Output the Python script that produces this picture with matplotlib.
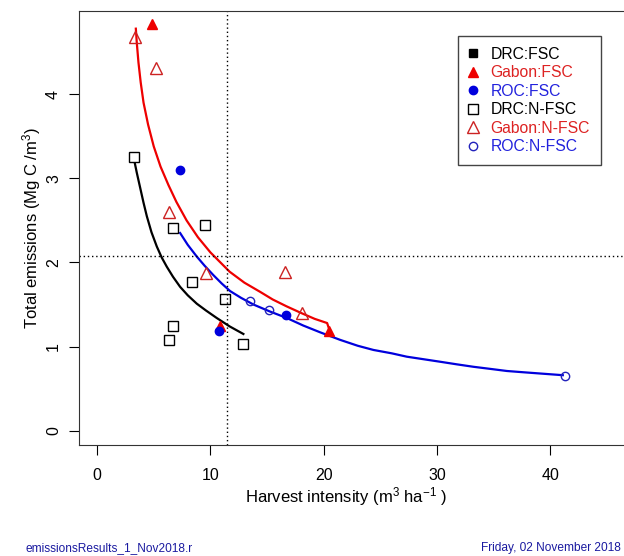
import matplotlib
matplotlib.use("Agg")
import matplotlib.pyplot as plt

plt.rcParams['font.family'] = ['Liberation Sans', 'DejaVu Sans']
plt.rcParams['mathtext.fontset'] = 'custom'
plt.rcParams['mathtext.rm'] = 'Liberation Sans'
plt.rcParams['mathtext.default'] = 'regular'

# points (harvest intensity, total emissions)
drc_fsc_x = []
drc_fsc_y = []
gabon_fsc_x = [4.85, 10.85, 20.5]
gabon_fsc_y = [4.84, 1.25, 1.19]
roc_fsc_x = [7.3, 10.8, 16.65]
roc_fsc_y = [3.10, 1.19, 1.38]
drc_nfsc_x = [3.27, 6.68, 9.53, 8.41, 11.27, 6.68, 6.33, 12.9]
drc_nfsc_y = [3.25, 2.41, 2.44, 1.77, 1.56, 1.24, 1.08, 1.03]
gabon_nfsc_x = [3.35, 5.24, 6.35, 9.62, 16.56, 18.1]
gabon_nfsc_y = [4.68, 4.31, 2.60, 1.88, 1.89, 1.40]
roc_nfsc_x = [13.5, 15.15, 41.25]
roc_nfsc_y = [1.54, 1.43, 0.645]

# fitted curves
drc_fit_x = [3.27, 3.5, 3.8, 4.1, 4.39, 4.8, 5.27, 5.7, 6.15, 6.7, 7.33, 8.0, 8.8,
             9.6, 10.56, 11.7, 12.91]
drc_fit_y = [3.22, 3.07, 2.89, 2.71, 2.55, 2.36, 2.19, 2.06, 1.95, 1.83, 1.71, 1.61, 1.51,
             1.43, 1.34, 1.24, 1.15]
gabon_fit_x = [3.42, 3.5, 3.65, 3.85, 4.1, 4.5, 5.0, 5.6, 6.3, 7.0, 7.9, 8.9, 10.0,
               11.7, 13.0, 14.4, 15.5, 16.7, 18.0, 19.2, 20.3, 20.45]
gabon_fit_y = [4.78, 4.62, 4.38, 4.14, 3.90, 3.64, 3.38, 3.14, 2.92, 2.72, 2.50, 2.30, 2.12,
               1.89, 1.76, 1.65, 1.56, 1.48, 1.40, 1.33, 1.28, 1.22]
roc_fit_x = [7.33, 8.0, 8.8, 9.5, 10.26, 11.0, 11.74, 12.7, 13.8, 15.2, 16.74, 18.2, 19.68,
             21.45, 23.0, 24.39, 26.0, 27.33, 28.8, 30.27, 31.7, 33.21, 34.7, 36.16,
             37.6, 39.1, 41.1]
roc_fit_y = [2.35, 2.21, 2.07, 1.96, 1.85, 1.75, 1.66, 1.58, 1.50, 1.42, 1.34, 1.25, 1.17,
             1.08, 1.01, 0.96, 0.92, 0.88, 0.85, 0.82, 0.79, 0.76, 0.735, 0.71,
             0.695, 0.68, 0.66]

x_ref = 11.5
y_ref = 2.08

W, H = 624, 556
fig = plt.figure(figsize=(W / 100, H / 100), dpi=100)
left, right, top, bottom = 78.5, 624, 11, 445
ax = fig.add_axes([left / W, 1 - bottom / H, (right - left) / W, (bottom - top) / H])

red = '#ee0000'
blue = '#0000dd'
ax.plot(drc_fit_x, drc_fit_y, color='black', lw=1.6)
ax.plot(gabon_fit_x, gabon_fit_y, color=red, lw=1.6)
ax.plot(roc_fit_x, roc_fit_y, color=blue, lw=1.6)

ax.plot(drc_fsc_x, drc_fsc_y, 's', color='black', ms=6, label='DRC:FSC')
ax.plot(gabon_fsc_x, gabon_fsc_y, '^', color=red, ms=7, label='Gabon:FSC')
ax.plot(roc_fsc_x, roc_fsc_y, 'o', color=blue, ms=6, label='ROC:FSC')
ax.plot(drc_nfsc_x, drc_nfsc_y, 's', mfc='white', mec='black', mew=1, ms=7, label='DRC:N-FSC')
ax.plot(gabon_nfsc_x, gabon_nfsc_y, '^', mfc='none', mec='#cc2222', mew=1, ms=9, label='Gabon:N-FSC')
ax.plot(roc_nfsc_x, roc_nfsc_y, 'o', mfc='none', mec='#2222bb', mew=1, ms=6, label='ROC:N-FSC')

ax.axvline(x_ref, color='black', lw=1, linestyle=(0, (1, 2)))
ax.axhline(y_ref, color='black', lw=1, linestyle=(0, (1, 2)))

ax.set_xlim(-1.64, 46.5)
ax.set_ylim(-0.17, 4.99)
ax.set_xticks([0, 10, 20, 30, 40])
ax.set_yticks([0, 1, 2, 3, 4])
ax.tick_params(direction='out', length=7.5, width=0.8, labelsize=11.5)
ax.tick_params(axis='x', pad=9)
ax.tick_params(axis='y', pad=10.5)
for lab in ax.get_yticklabels():
    lab.set_rotation(90)
    lab.set_va('center')
    lab.set_ha('center')
ax.spines['right'].set_visible(False)
for s in ['left', 'top', 'bottom']:
    ax.spines[s].set_color('#333333')

ax.set_xlabel('Harvest intensity (m$^3$ ha$^{-1}$ )', fontsize=12)
ax.set_ylabel('Total emissions (Mg C /m$^3$)', fontsize=12)
ax.xaxis.set_label_coords((346 - left) / (right - left), (bottom - 497) / (bottom - top))
ax.yaxis.set_label_coords((32 - left) / (right - left), 0.5)
ax.xaxis.label.set_va('center')
ax.yaxis.label.set_va('center')

leg = ax.legend(loc='upper right', bbox_to_anchor=((601 - left) / (right - left), 1 - (36 - top) / (bottom - top)),
                borderaxespad=0, fontsize=11.3, frameon=True, fancybox=False, handlelength=0.4,
                handletextpad=0.95, labelspacing=0.22, borderpad=0.7, framealpha=1)
leg.get_frame().set_edgecolor('#444444')
leg.get_frame().set_linewidth(1)
for txt, c in zip(leg.get_texts(), ['black', '#dd2222', '#2222dd', 'black', '#dd2222', '#2222dd']):
    txt.set_color(c)

fig.text(25 / W, 1 - 548 / H, 'emissionsResults_1_Nov2018.r', fontsize=8.6, color='#1a1aa0', va='center')
fig.text(621 / W, 1 - 548 / H, 'Friday, 02 November 2018', fontsize=8.6, color='#1a1aa0',
         va='center', ha='right')

fig.savefig('out.png', dpi=100)
